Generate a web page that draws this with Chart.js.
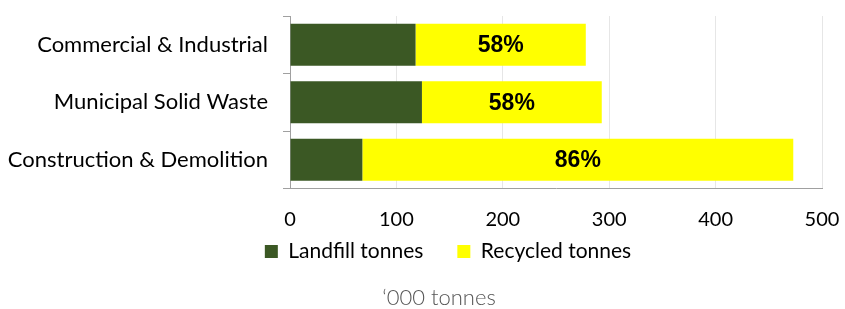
<!DOCTYPE html>
<html>
<head>
<meta charset="utf-8">
<script src="https://cdn.jsdelivr.net/npm/chart.js@4/dist/chart.umd.min.js"></script>
<style>
  html, body { margin: 0; padding: 0; background: #ffffff; }
  #wrap { width: 845px; height: 309px; }
</style>
</head>
<body>
<div id="wrap"><canvas id="wasteChart"></canvas></div>
<script>
// categories, top to bottom
var categories = ['Commercial & Industrial', 'Municipal Solid Waste', 'Construction & Demolition'];
// '000 tonnes
var landfillTonnes = [118, 124, 68];
var recycledTonnes = [160, 169, 405];
var seriesNames = ['Landfill tonnes', 'Recycled tonnes'];
var axisTitle = '\u2018000 tonnes';

var labelFont = 'Lato, "Open Sans", sans-serif';

// draws the recycled share in the middle of each yellow bar
var shareLabels = {
    id: 'shareLabels',
    afterDatasetsDraw: function (chart) {
        var ctx = chart.ctx;
        var meta = chart.getDatasetMeta(1);
        ctx.save();
        ctx.font = 'bold 23px "Liberation Sans", Arial, sans-serif';
        ctx.fillStyle = '#000000';
        ctx.textAlign = 'center';
        ctx.textBaseline = 'middle';
        meta.data.forEach(function (bar, i) {
            var total = landfillTonnes[i] + recycledTonnes[i];
            var pct = Math.round(recycledTonnes[i] / total * 100) + '%';
            ctx.fillText(pct, (bar.x + bar.base) / 2, bar.y + 1);
        });
        ctx.restore();
    }
};

// Excel puts legend + unit title a bit right of the page centre,
// and the legend rows are tighter than Chart.js wants with wide item gaps
var bottomBlocks = {
    id: 'bottomBlocks',
    beforeLayout: function (chart) {
        var lg = chart.legend;
        if (lg && !lg._tightFit) {
            var fit = lg.fit;
            lg.fit = function () {
                fit.call(this);
                this.height = 39;
            };
            lg._tightFit = true;
        }
    },
    afterLayout: function (chart) {
        var lg = chart.legend;
        var w = lg.right - lg.left;
        lg.left = 448 - w / 2;
        lg.right = lg.left + w;
        lg.top = 207;
        lg.bottom = 297;

        var tb = chart.titleBlock;
        var tw = tb.right - tb.left;
        tb.left = 439 - tw / 2;
        tb.right = tb.left + tw;
        tb.top += 2;
        tb.bottom += 2;
    }
};

new Chart(document.getElementById('wasteChart'), {
    type: 'bar',
    data: {
        labels: categories,
        datasets: [
            {
                label: seriesNames[0],
                data: landfillTonnes,
                backgroundColor: '#3b5824',
                borderWidth: 0,
                barPercentage: 0.73,
                categoryPercentage: 1.0
            },
            {
                label: seriesNames[1],
                data: recycledTonnes,
                backgroundColor: '#ffff00',
                borderWidth: 0,
                barPercentage: 0.73,
                categoryPercentage: 1.0
            }
        ]
    },
    options: {
        indexAxis: 'y',
        responsive: true,
        maintainAspectRatio: false,
        animation: false,
        layout: {
            padding: { left: 0, right: 23, top: 16, bottom: 0 }
        },
        scales: {
            x: {
                stacked: true,
                min: 0,
                max: 500,
                ticks: {
                    stepSize: 100,
                    padding: 0,
                    color: '#000000',
                    font: { family: labelFont, size: 20 }
                },
                grid: {
                    color: '#e6e6e6',
                    drawTicks: true,
                    tickLength: 19,
                    tickColor: 'rgba(0,0,0,0)'
                },
                border: { color: '#a0a0a0', width: 1 }
            },
            y: {
                stacked: true,
                ticks: {
                    padding: 15,
                    color: '#000000',
                    font: { family: labelFont, size: 22, lineHeight: 0.05 }
                },
                grid: {
                    offset: true,
                    drawOnChartArea: false,
                    drawTicks: true,
                    tickLength: 7,
                    color: '#a0a0a0'
                },
                border: { color: '#a0a0a0', width: 1 },
                afterFit: function (scale) {
                    scale.width = 290;
                }
            }
        },
        plugins: {
            legend: {
                position: 'bottom',
                labels: {
                    boxWidth: 13,
                    boxHeight: 13,
                    padding: 34,
                    color: '#000000',
                    font: { family: labelFont, size: 21 }
                }
            },
            title: {
                display: true,
                position: 'bottom',
                text: axisTitle,
                color: '#555555',
                padding: { top: 12, bottom: 0 },
                font: { family: labelFont, size: 22, weight: '300' }
            },
            tooltip: { enabled: false }
        }
    },
    plugins: [shareLabels, bottomBlocks]
});
</script>
</body>
</html>
